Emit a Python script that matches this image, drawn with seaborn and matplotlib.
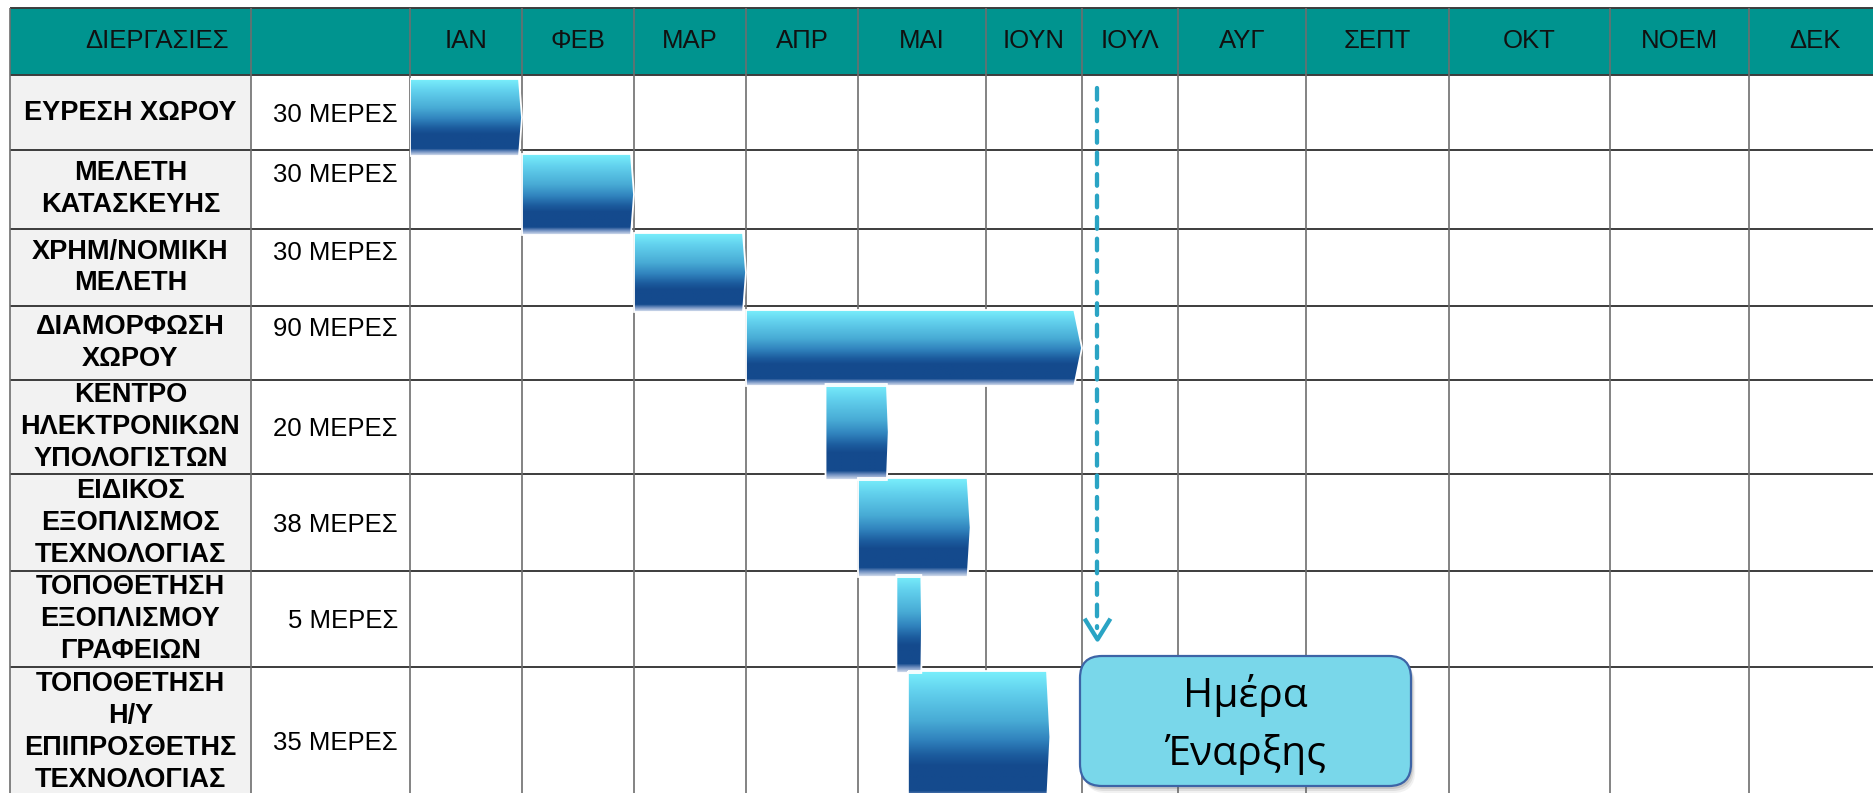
import numpy as np
import matplotlib.pyplot as plt
from matplotlib.patches import Polygon, Rectangle, FancyBboxPatch
from matplotlib.colors import LinearSegmentedColormap
from matplotlib.path import Path
import seaborn as sns

# ---- data ----
tasks = ["ΕΥΡΕΣΗ ΧΩΡΟΥ", "ΜΕΛΕΤΗ\nΚΑΤΑΣΚΕΥΗΣ", "ΧΡΗΜ/ΝΟΜΙΚΗ\nΜΕΛΕΤΗ", "ΔΙΑΜΟΡΦΩΣΗ\nΧΩΡΟΥ",
         "ΚΕΝΤΡΟ\nΗΛΕΚΤΡΟΝΙΚΩΝ\nΥΠΟΛΟΓΙΣΤΩΝ", "ΕΙΔΙΚΟΣ\nΕΞΟΠΛΙΣΜΟΣ\nΤΕΧΝΟΛΟΓΙΑΣ",
         "ΤΟΠΟΘΕΤΗΣΗ\nΕΞΟΠΛΙΣΜΟΥ\nΓΡΑΦΕΙΩΝ", "ΤΟΠΟΘΕΤΗΣΗ\nΗ/Υ\nΕΠΙΠΡΟΣΘΕΤΗΣ\nΤΕΧΝΟΛΟΓΙΑΣ"]
days = [30, 30, 30, 90, 20, 38, 5, 35]
months = ["ΙΑΝ", "ΦΕΒ", "ΜΑΡ", "ΑΠΡ", "ΜΑΙ", "ΙΟΥΝ", "ΙΟΥΛ", "ΑΥΓ", "ΣΕΠΤ", "ΟΚΤ", "ΝΟΕΜ", "ΔΕΚ"]
# bar start / end, in months counted from 1 January
bar_start = [0.0, 1.0, 2.0, 3.0, 3.71, 4.0, 4.30, 4.39]
bar_end = [1.0, 2.0, 3.0, 6.0, 4.24, 4.88, 4.50, 5.67]
start_day = 6.16
start_label = ["Ημέρα", "Έναρξης"]

# ---- layout (pixels) ----
W, H = 1873, 793
left_x, dur_x, month_x0 = 10, 251, 410
month_edges = [410, 522, 634, 746, 858, 986, 1082, 1178, 1306, 1449, 1610, 1749, 1880]
row_edges = [8, 75, 150, 229, 306, 380, 474, 571, 667, 797]
dur_shift = {0: 2, 1: -14, 2: 2, 3: 11}   # duration text offset by number of line breaks

teal = "#00948F"
grid_col = "#6E6E6E"
arrow_col = "#2AA4C4"

sns.set_theme(style="white")
plt.rcParams['font.family'] = ['Liberation Sans', 'DejaVu Sans']

# piecewise month scale so columns keep their real widths
m_idx = np.r_[-100, np.arange(13), 112]
px = np.r_[month_edges[0] - 100 * 112, month_edges, month_edges[-1] + 100 * 131]


def fwd(m):
    return np.interp(m, m_idx, px)


def inv(p):
    return np.interp(p, px, m_idx)


fig = plt.figure(figsize=(W / 100, H / 100), dpi=100)
ax = fig.add_axes([0, 0, 1, 1])
ax.set_xlim(0, W)
ax.set_ylim(H, 0)
ax.axis('off')

axb = fig.add_axes([month_x0 / W, 0, (W - month_x0) / W, 1])
axb.set_xscale('function', functions=(fwd, inv))
axb.axis('off')

# header + left column background
ax.add_patch(Rectangle((left_x, row_edges[0]), W, row_edges[1] - row_edges[0], color=teal, lw=0))
ax.add_patch(Rectangle((left_x, row_edges[1]), dur_x - left_x, H, color="#F2F2F2", lw=0))

# grid
ax.hlines(row_edges, left_x, W, color="#3C3C3C", lw=1.4)
ax.vlines([left_x, dur_x, month_x0], row_edges[0], H, color=grid_col, lw=1.2)
axb.vlines(np.arange(1, 12), row_edges[0], H, color=grid_col, lw=1.2, zorder=1)

# header text
hy = (row_edges[0] + row_edges[1]) / 2
ax.text(157, hy, "ΔΙΕΡΓΑΣΙΕΣ", ha='center', va='center', fontsize=18.5, color="#111111")
for i, m in enumerate(months):
    axb.text(i + 0.5, hy, m, ha='center', va='center', fontsize=18.5, color="#111111")

# task names and durations
for i, (t, d) in enumerate(zip(tasks, days)):
    r0, r1 = row_edges[i + 1], row_edges[i + 2]
    cy = (r0 + r1) / 2
    ax.text((left_x + dur_x) / 2, cy, t, ha='center', va='center', fontsize=19.5,
            fontweight='bold', color="black", linespacing=1.3)
    dy = cy + dur_shift[t.count("\n")]
    ax.text(398, dy, f"{d} ΜΕΡΕΣ", ha='right', va='center', fontsize=18.5, color="black")

# gradient bars
bar_cmap = LinearSegmentedColormap.from_list("bar", [
    (0, "#7AF0FC"), (0.15, "#63D2EE"), (0.38, "#48ABD5"), (0.52, "#3184BE"),
    (0.64, "#1C5C9E"), (0.72, "#144A8D"), (0.91, "#144A8D"), (0.95, "#6F8FC0"), (1, "#D5DEEE")])
grad = np.linspace(0, 1, 256).reshape(-1, 1)
for i, (s, e) in enumerate(zip(bar_start, bar_end)):
    top = row_edges[i + 1] + 4
    bot = row_edges[i + 2] + 6
    tip = 0.027 * (e - s)
    verts = [(s, top), (e - tip, top), (e, (top + bot) / 2), (e - tip, bot), (s, bot)]
    clip = Polygon(verts, closed=True, transform=axb.transData)
    im = axb.imshow(grad, cmap=bar_cmap, extent=(s, e, bot, top), aspect='auto',
                    interpolation='bilinear', zorder=3)
    im.set_clip_path(clip)
    axb.add_patch(Polygon(verts, closed=True, fill=False, ec='white', lw=1.3, zorder=4))

# start-day arrow
axb.plot([start_day, start_day], [88, 628], color=arrow_col, lw=3.1,
         dashes=(2.7, 2.3), dash_capstyle='round', zorder=5)
vhead = Path([(-0.62, 1), (0, 0), (0.62, 1)], [Path.MOVETO, Path.LINETO, Path.LINETO])
axb.plot([start_day], [639], marker=vhead, ms=30, mfc='none', mec=arrow_col, mew=3.1,
         zorder=5, solid_joinstyle='round')

# "start day" box with soft shadow
bx, by, bw, bh = 1080, 656, 331, 130
for k, a in [(7, 0.08), (5, 0.12), (3, 0.18)]:
    axb.add_patch(FancyBboxPatch((bx + k * 0.6, by + k), bw, bh,
                                 boxstyle="round,pad=0,rounding_size=22", fc="#555555",
                                 ec='none', alpha=a, transform=ax.transData, zorder=6))
axb.add_patch(FancyBboxPatch((bx, by), bw, bh, boxstyle="round,pad=0,rounding_size=22",
                             fc="#79D7EA", ec="#3D64A6", lw=1.6, transform=ax.transData, zorder=7))
ax_text_kw = dict(ha='center', va='baseline', fontsize=29.5, color='black',
                  family=['Open Sans', 'DejaVu Sans'], transform=ax.transData, zorder=8)
axb.text(bx + bw / 2, 707, start_label[0], **ax_text_kw)
axb.text(bx + bw / 2, 765, start_label[1], **ax_text_kw)

axb.set_xlim(0, inv(W))
axb.set_ylim(H, 0)

fig.savefig("out.png", dpi=100)
